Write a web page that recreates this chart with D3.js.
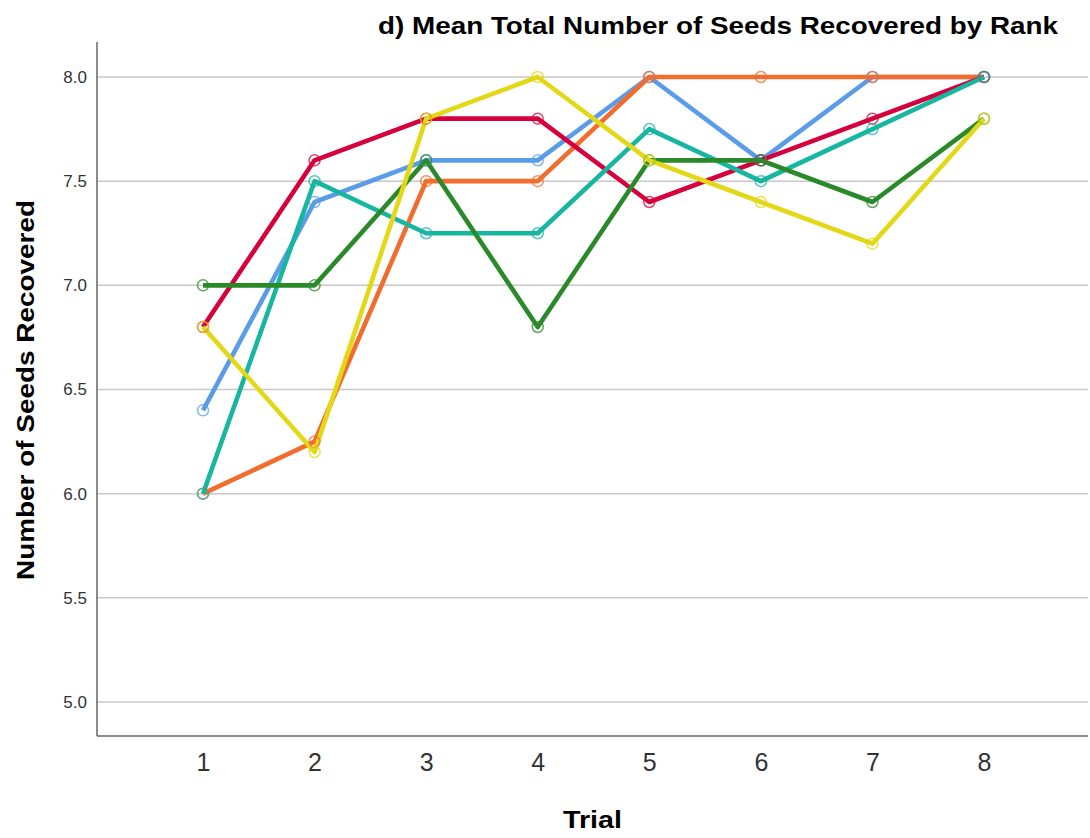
<!DOCTYPE html>
<meta charset="utf-8">
<style>
body { margin: 0; background: #fff; }
text { font-family: "Liberation Sans", Arial, sans-serif; }
.grid line { stroke: #c8c8c8; stroke-width: 1.5px; }
.line { fill: none; stroke-width: 4.6px; stroke-linejoin: round; }
.dot { fill: none; stroke-width: 1.5px; }
</style>
<body>
<script src="https://d3js.org/d3.v7.min.js"></script>
<script>

// data
var trials = [1, 2, 3, 4, 5, 6, 7, 8];
var yTicks = [5.0, 5.5, 6.0, 6.5, 7.0, 7.5, 8.0];

var blue   = [6.4, 7.4, 7.6, 7.6, 8.0, 7.6, 8.0, 8.0];
var orange = [6.0, 6.25, 7.5, 7.5, 8.0, 8.0, 8.0, 8.0];
var red    = [6.8, 7.6, 7.8, 7.8, 7.4, 7.6, 7.8, 8.0];
var teal   = [6.0, 7.5, 7.25, 7.25, 7.75, 7.5, 7.75, 8.0];
var green  = [7.0, 7.0, 7.6, 6.8, 7.6, 7.6, 7.4, 7.8];
var yellow = [6.8, 6.2, 7.8, 8.0, 7.6, 7.4, 7.2, 7.8];

var series = [
  {values: blue,   color: "#5b9ce8"},
  {values: orange, color: "#f26c2e"},
  {values: red,    color: "#d6003c"},
  {values: teal,   color: "#16b6a0"},
  {values: green,  color: "#2a8a2a"},
  {values: yellow, color: "#e3d816"}
];

var width = 1090, height = 838;
var plotLeft = 97, plotRight = 1088, plotTop = 42, plotBottom = 736;

var svg = d3.select("body").append("svg")
    .attr("width", width)
    .attr("height", height);

var x = d3.scaleLinear().domain([1, 8]).range([203, 984]);
var y = d3.scaleLinear().domain([5, 8]).range([702, 77]);

// gridlines
svg.append("g").attr("class", "grid")
  .selectAll("line").data(yTicks).enter().append("line")
    .attr("x1", plotLeft).attr("x2", plotRight)
    .attr("y1", function(d) { return y(d); })
    .attr("y2", function(d) { return y(d); });

// y axis
var yAxis = svg.append("g")
    .attr("transform", "translate(" + plotLeft + ",0)")
    .call(d3.axisLeft(y).tickValues(yTicks).tickFormat(d3.format(".1f")).tickSize(0).tickPadding(10));
yAxis.select(".domain").remove();
yAxis.selectAll("text").style("font-size", "17px").attr("fill", "#333");

// x axis
var xAxis = svg.append("g")
    .attr("transform", "translate(0," + plotBottom + ")")
    .call(d3.axisBottom(x).tickValues(trials).tickFormat(d3.format("d")).tickSize(0).tickPadding(17));
xAxis.select(".domain").remove();
xAxis.selectAll("text").style("font-size", "25px").attr("fill", "#333");

// axis lines
svg.append("line").attr("x1", plotLeft).attr("x2", plotLeft).attr("y1", plotTop).attr("y2", plotBottom)
  .attr("stroke", "#666").attr("stroke-width", 1.5);
svg.append("line").attr("x1", plotLeft).attr("x2", plotRight).attr("y1", plotBottom).attr("y2", plotBottom)
  .attr("stroke", "#666").attr("stroke-width", 1.5);

var line = d3.line()
    .x(function(d, i) { return x(trials[i]); })
    .y(function(d) { return y(d); });

series.forEach(function(s) {
  svg.append("path")
    .attr("class", "line")
    .attr("stroke", s.color)
    .attr("d", line(s.values));
});

series.forEach(function(s) {
  svg.append("g").selectAll("circle").data(s.values).enter().append("circle")
    .attr("class", "dot")
    .attr("stroke", s.color)
    .attr("stroke-opacity", 0.75)
    .attr("cx", function(d, i) { return x(trials[i]); })
    .attr("cy", function(d) { return y(d); })
    .attr("r", 5.5);
});

// title
svg.append("text")
  .attr("x", 378).attr("y", 34)
  .attr("textLength", 680).attr("lengthAdjust", "spacingAndGlyphs")
  .style("font-size", "23px").style("font-weight", "bold")
  .text("d) Mean Total Number of Seeds Recovered by Rank");

// axis titles
svg.append("text")
  .attr("transform", "translate(34,580) rotate(-90)")
  .attr("textLength", 380).attr("lengthAdjust", "spacingAndGlyphs")
  .style("font-size", "24px").style("font-weight", "bold")
  .text("Number of Seeds Recovered");

svg.append("text")
  .attr("x", 563).attr("y", 828)
  .attr("textLength", 59).attr("lengthAdjust", "spacingAndGlyphs")
  .style("font-size", "24px").style("font-weight", "bold")
  .text("Trial");

</script>
</body>
